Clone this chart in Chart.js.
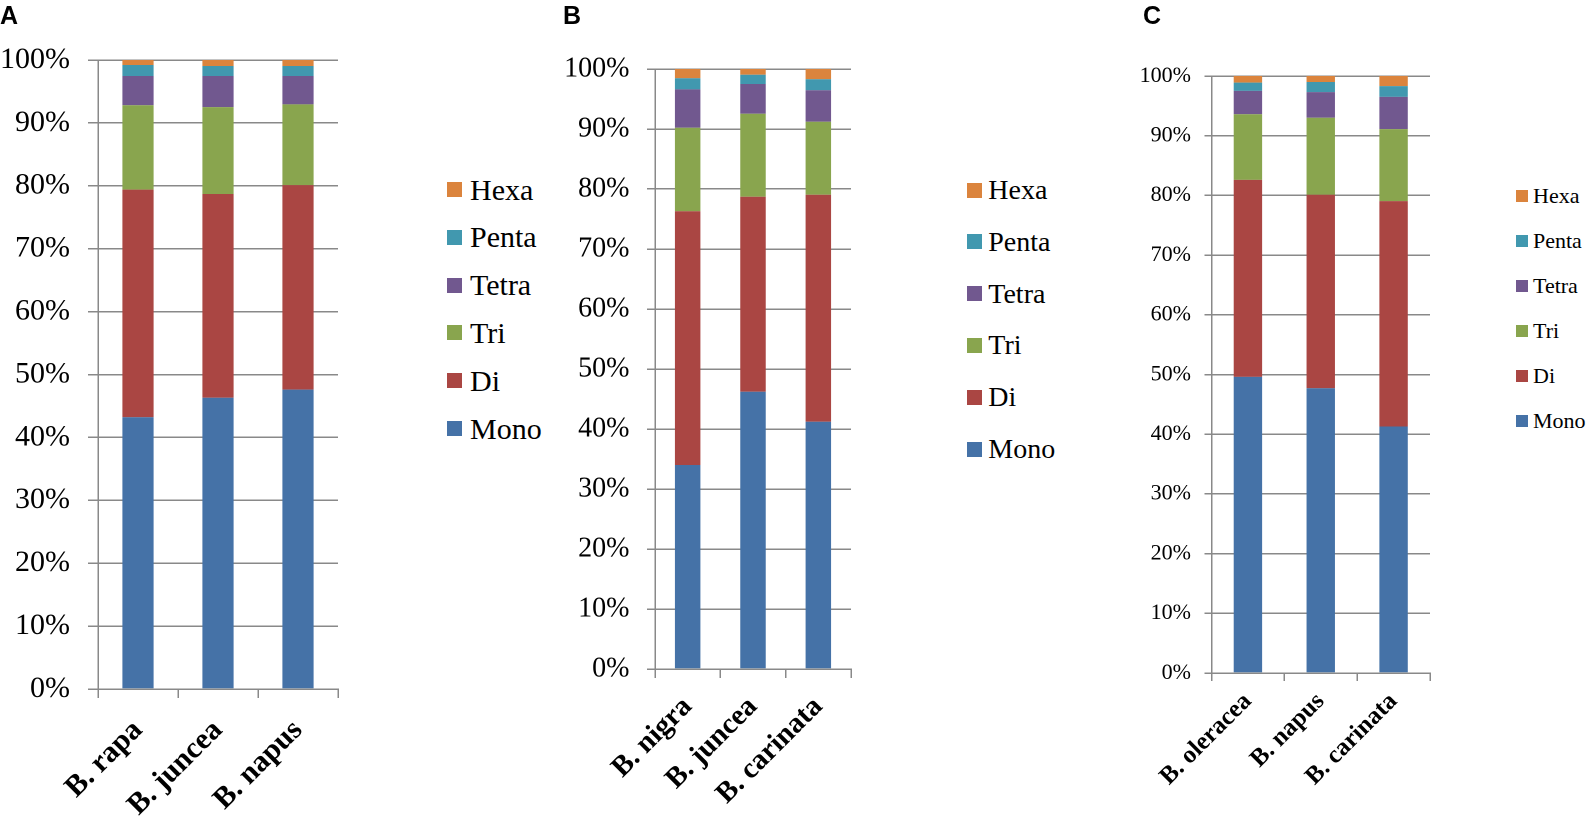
<!DOCTYPE html>
<html>
<head>
<meta charset="utf-8">
<script src="https://cdn.jsdelivr.net/npm/chart.js@4.4.1/dist/chart.umd.min.js"></script>
<style>
  html, body { margin:0; padding:0; background:#fff; width:1588px; height:818px; overflow:hidden; }
  .panel { position:absolute; top:0; height:818px; }
  .panel canvas { position:absolute; left:0; top:0; }
  .letter { position:absolute; top:3.4px; font-family:'Liberation Sans', Arial, sans-serif; font-weight:bold; font-size:25px; line-height:1; color:#000; }
  .lg-text { position:absolute; font-family:'Liberation Serif', 'Times New Roman', serif; line-height:1; white-space:nowrap; color:#000; }
  .lg-box { position:absolute; }
</style>
</head>
<body>
<div class="panel" id="pA" style="left:0px;width:540px;"><canvas id="cA"></canvas><div class="letter" style="left:0px;">A</div></div>
<div class="panel" id="pB" style="left:520px;width:540px;"><canvas id="cB"></canvas><div class="letter" style="left:43px;">B</div></div>
<div class="panel" id="pC" style="left:1060px;width:528px;"><canvas id="cC"></canvas><div class="letter" style="left:83px;">C</div></div>
<script>
// ---------------- data ----------------
const seriesNames = ['Mono', 'Di', 'Tri', 'Tetra', 'Penta', 'Hexa'];
const yTickLabels = ['0%', '10%', '20%', '30%', '40%', '50%', '60%', '70%', '80%', '90%', '100%'];

const categoriesA = ['B. rapa', 'B. juncea', 'B. napus'];
const monoA  = [43.2, 46.3, 47.6];
const diA    = [36.2, 32.4, 32.5];
const triA   = [13.4, 13.8, 12.85];
const tetraA = [4.65, 4.95, 4.5];
const pentaA = [1.75, 1.6, 1.6];
const hexaA  = [0.8, 0.95, 0.95];

const categoriesB = ['B. nigra', 'B. juncea', 'B. carinata'];
const monoB  = [34.0, 46.2, 41.2];
const diB    = [42.3, 32.5, 37.85];
const triB   = [13.9, 13.85, 12.15];
const tetraB = [6.4, 4.95, 5.25];
const pentaB = [1.85, 1.55, 1.85];
const hexaB  = [1.55, 0.95, 1.7];

const categoriesC = ['B. oleracea', 'B. napus', 'B. carinata'];
const monoC  = [49.6, 47.7, 41.3];
const diC    = [33.0, 32.4, 37.75];
const triC   = [11.0, 12.9, 12.05];
const tetraC = [3.9, 4.3, 5.4];
const pentaC = [1.4, 1.7, 1.8];
const hexaC  = [1.1, 1.0, 1.7];

// ---------------- styles ----------------
const seriesColors = ['#4572A7', '#AA4643', '#89A54E', '#71588F', '#4198AF', '#DB843D'];
const gridColor = '#898989';

const layoutA = { W:360, left:98, right:338, top:60, bottom:689, yFont:30, yTick:10, yPad:18, xFont:30, xTick:9, xPad:15,
  lg:{ boxX:446.7, boxW:15, boxH:15, textX:470, y0:189.5, dy:47.8, font:30 } };
const layoutB = { W:350, left:135, right:331, top:69, bottom:669, yFont:28, yTick:8, yPad:17.5, xFont:29, xTick:9, xPad:12,
  lg:{ boxX:446.7, boxW:15, boxH:15, textX:468.3, y0:190, dy:51.8, font:28 } };
const layoutC = { W:390, left:151.5, right:370, top:76, bottom:673, yFont:22, yTick:7, yPad:13.5, xFont:25, xTick:8, xPad:6,
  lg:{ boxX:456, boxW:12, boxH:12, textX:473, y0:196, dy:44.9, font:22 } };

function makeChart(canvasId, cats, values, L) {
  const canvas = document.getElementById(canvasId);
  canvas.width = L.W; canvas.height = 818;
  canvas.style.width = L.W + 'px'; canvas.style.height = '818px';
  new Chart(canvas, {
    type: 'bar',
    data: {
      labels: cats,
      datasets: seriesNames.map((name, i) => ({
        label: name,
        data: values[i],
        backgroundColor: seriesColors[i],
        borderWidth: 0,
        barPercentage: 0.39,
        categoryPercentage: 1
      }))
    },
    options: {
      responsive: false,
      animation: false,
      devicePixelRatio: 2,
      layout: { padding: { left: 0, top: L.top, right: L.W - L.right, bottom: 0 } },
      plugins: { legend: { display: false }, tooltip: { enabled: false } },
      scales: {
        x: {
          stacked: true,
          grid: { offset: true, drawOnChartArea: false, drawTicks: true, tickLength: L.xTick, color: gridColor, lineWidth: 1.5 },
          border: { display: true, color: gridColor, width: 1.5 },
          ticks: { minRotation: 45, maxRotation: 45, autoSkip: false, padding: L.xPad, color: '#000',
                   font: { family: "'Liberation Serif', 'Times New Roman', serif", size: L.xFont, weight: 'bold' } },
          afterFit: (s) => { s.height = 818 - L.bottom; }
        },
        y: {
          stacked: true, min: 0, max: 100,
          ticks: { stepSize: 10, padding: L.yPad, color: '#000',
                   font: { family: "'Liberation Serif', 'Times New Roman', serif", size: L.yFont },
                   callback: (v) => yTickLabels[Math.round(v / 10)] },
          grid: { color: gridColor, lineWidth: 1.5, tickLength: L.yTick, drawTicks: true },
          border: { display: true, color: gridColor, width: 1.5 },
          afterFit: (s) => { s.width = L.left; }
        }
      }
    }
  });
}

function makeLegend(panelId, G) {
  const panel = document.getElementById(panelId);
  const n = seriesNames.length;
  for (let k = 0; k < n; k++) {
    const i = n - 1 - k; // Hexa at top, Mono at bottom
    const cy = G.y0 + k * G.dy;
    const box = document.createElement('div');
    box.className = 'lg-box';
    box.style.left = G.boxX + 'px';
    box.style.top = (cy - G.boxH / 2) + 'px';
    box.style.width = G.boxW + 'px';
    box.style.height = G.boxH + 'px';
    box.style.background = seriesColors[i];
    panel.appendChild(box);
    const t = document.createElement('div');
    t.className = 'lg-text';
    t.style.left = G.textX + 'px';
    t.style.fontSize = G.font + 'px';
    t.style.top = (cy - 0.5 * G.font) + 'px';
    t.textContent = seriesNames[i];
    panel.appendChild(t);
  }
}

makeChart('cA', categoriesA, [monoA, diA, triA, tetraA, pentaA, hexaA], layoutA);
makeChart('cB', categoriesB, [monoB, diB, triB, tetraB, pentaB, hexaB], layoutB);
makeChart('cC', categoriesC, [monoC, diC, triC, tetraC, pentaC, hexaC], layoutC);
makeLegend('pA', layoutA.lg);
makeLegend('pB', layoutB.lg);
makeLegend('pC', layoutC.lg);
</script>
</body>
</html>
